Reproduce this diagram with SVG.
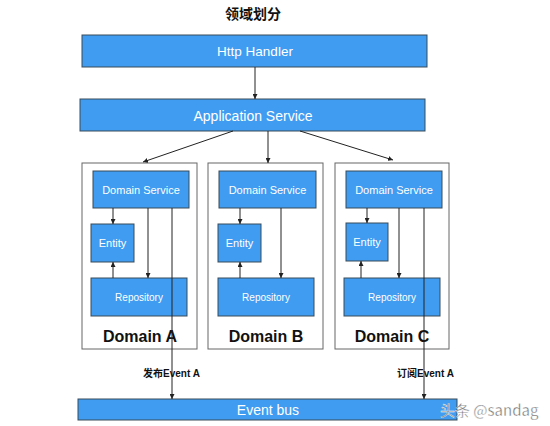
<svg xmlns="http://www.w3.org/2000/svg" width="550" height="426" viewBox="0 0 550 426">
<defs>
<marker id="ah" viewBox="0 0 6 6" refX="6" refY="3" markerWidth="5" markerHeight="5" orient="auto" markerUnits="userSpaceOnUse">
<path d="M0,0 L6,3 L0,6 z" fill="#222"/>
</marker>
<style>
.box{fill:#3f9cf0;stroke:#3a4a5a;stroke-width:1}
.dom{fill:#fff;stroke:#666;stroke-width:1}
.wt{fill:#fff;font-family:"Liberation Sans",Arial,sans-serif;text-anchor:middle;dominant-baseline:central}
.dl{fill:#111;font-family:"Liberation Sans",Arial,sans-serif;font-weight:bold;font-size:16px;text-anchor:middle}
.ln{stroke:#222;stroke-width:1;fill:none}
.lb{fill:#111;font-family:"Liberation Sans","Noto Sans CJK SC",sans-serif;font-weight:bold;font-size:10px}
</style>
</defs>
<rect width="550" height="426" fill="#fff"/>
<text x="253" y="19" text-anchor="middle" font-family="'Noto Sans CJK SC',sans-serif" font-weight="bold" font-size="14" fill="#111">领域划分</text>

<g id="http-handler"><rect class="box" x="82" y="35" width="345" height="32"/><text class="wt" x="255" y="51.5" font-size="13.5">Http Handler</text></g>
<g id="application-service"><rect class="box" x="80" y="99" width="345" height="32"/><text class="wt" x="253" y="115.5" font-size="14">Application Service</text></g>

<g id="domain-a">
<rect class="dom" x="82" y="163" width="115" height="186"/>
<text class="dl" x="140" y="342">Domain A</text>
</g>
<g id="domain-a-service"><rect class="box" x="93" y="171" width="96" height="37"/><text class="wt" x="141" y="190" font-size="11">Domain Service</text></g>
<g id="domain-a-entity"><rect class="box" x="91" y="224" width="43" height="38"/><text class="wt" x="112.5" y="243" font-size="11">Entity</text></g>
<g id="domain-a-repository"><rect class="box" x="91" y="278" width="96" height="38"/><text class="wt" x="139" y="297.5" font-size="10">Repository</text></g>

<g id="domain-b">
<rect class="dom" x="208" y="163" width="115" height="186"/>
<text class="dl" x="266" y="342">Domain B</text>
</g>
<g id="domain-b-service"><rect class="box" x="219" y="171" width="97" height="37"/><text class="wt" x="267.5" y="190" font-size="11">Domain Service</text></g>
<g id="domain-b-entity"><rect class="box" x="218" y="224" width="43" height="38"/><text class="wt" x="239.5" y="243" font-size="11">Entity</text></g>
<g id="domain-b-repository"><rect class="box" x="218" y="278" width="96" height="38"/><text class="wt" x="266" y="297.5" font-size="10">Repository</text></g>

<g id="domain-c">
<rect class="dom" x="335" y="163" width="114" height="186"/>
<text class="dl" x="392" y="342">Domain C</text>
</g>
<g id="domain-c-service"><rect class="box" x="346" y="171" width="96" height="37"/><text class="wt" x="394" y="190" font-size="11">Domain Service</text></g>
<g id="domain-c-entity"><rect class="box" x="346" y="223" width="42" height="38"/><text class="wt" x="367" y="242" font-size="11">Entity</text></g>
<g id="domain-c-repository"><rect class="box" x="344" y="278" width="96" height="38"/><text class="wt" x="392" y="297.5" font-size="10">Repository</text></g>

<g id="event-bus"><rect class="box" x="78" y="399" width="379" height="21"/><text class="wt" x="268" y="410" font-size="14">Event bus</text></g>

<g id="connectors">
<line class="ln" x1="255" y1="67" x2="255" y2="99" marker-end="url(#ah)"/>
<line class="ln" x1="233" y1="131" x2="143" y2="162" marker-end="url(#ah)"/>
<line class="ln" x1="268" y1="131" x2="268" y2="163" marker-end="url(#ah)"/>
<line class="ln" x1="300" y1="131" x2="393" y2="160" marker-end="url(#ah)"/>

<line class="ln" x1="113" y1="208" x2="113" y2="224" marker-end="url(#ah)"/>
<line class="ln" x1="113" y1="278" x2="113" y2="262" marker-end="url(#ah)"/>
<line class="ln" x1="148" y1="208" x2="148" y2="278" marker-end="url(#ah)"/>
<line class="ln" x1="172" y1="208" x2="172" y2="399" marker-end="url(#ah)"/>

<line class="ln" x1="240" y1="208" x2="240" y2="224" marker-end="url(#ah)"/>
<line class="ln" x1="240" y1="278" x2="240" y2="262" marker-end="url(#ah)"/>
<line class="ln" x1="281" y1="208" x2="281" y2="278" marker-end="url(#ah)"/>

<line class="ln" x1="367" y1="208" x2="367" y2="223" marker-end="url(#ah)"/>
<line class="ln" x1="361" y1="278" x2="361" y2="261" marker-end="url(#ah)"/>
<line class="ln" x1="399" y1="208" x2="399" y2="278" marker-end="url(#ah)"/>
<line class="ln" x1="424" y1="208" x2="424" y2="399" marker-end="url(#ah)"/>

<text class="lb" x="143" y="377">发布Event A</text>
<text class="lb" x="397" y="377">订阅Event A</text>
</g>
<text x="440" y="416" font-family="'Noto Sans CJK SC',sans-serif" font-size="15" fill="#6a6a6a" stroke="#fff" stroke-width="0.4">头条 @sandag</text>
</svg>
